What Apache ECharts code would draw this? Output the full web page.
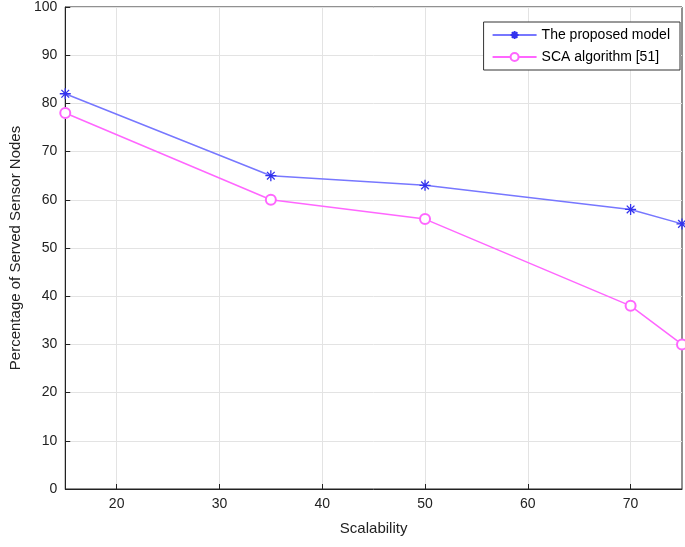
<!DOCTYPE html>
<html><head><meta charset="utf-8">
<script src="https://cdn.jsdelivr.net/npm/echarts@6/dist/echarts.min.js"></script>
<style>html,body{margin:0;padding:0;background:#fff}#c{width:685px;height:547px}</style>
</head><body><div id="c"></div>
<script>
const xValues = [15, 35, 50, 70, 75];
const proposed = [82, 65, 63, 58, 55];
const sca = [78, 60, 56, 38, 30];
const xTicks = [20, 30, 40, 50, 60, 70];
const seriesNames = ['The proposed model', 'SCA algorithm [51]'];
const font = 'Liberation Sans';
const chart = echarts.init(document.getElementById('c'));
chart.setOption({
  animation: false,
  grid: {left: 60, right: 3, top: 7, bottom: 58, show: true, borderColor: '#222', borderWidth: 1},
  legend: {
    orient: 'vertical', right: 5, top: 22, itemGap: 8,
    backgroundColor: '#fff', borderColor: '#333', borderWidth: 1, padding: [6, 10, 6, 8],
    itemWidth: 44, itemHeight: 10,
    textStyle: {fontFamily: font, fontSize: 14, color: '#000'},
    data: seriesNames
  },
  xAxis: {
    type: 'value', min: 15, max: 75,
    name: 'Scalability', nameLocation: 'middle', nameGap: 32,
    nameTextStyle: {fontFamily: font, fontSize: 15, color: '#222'},
    axisLine: {lineStyle: {color: '#222'}},
    axisTick: {inside: true, customValues: xTicks, lineStyle: {color: '#222'}},
    axisLabel: {customValues: xTicks, fontFamily: font, fontSize: 14, color: '#222'},
    splitLine: {show: true, lineStyle: {color: '#e3e3e3'}}
  },
  yAxis: {
    type: 'value', min: 0, max: 100, interval: 10,
    name: 'Percentage of Served Sensor Nodes', nameLocation: 'middle', nameGap: 36,
    nameTextStyle: {fontFamily: font, fontSize: 15, color: '#222'},
    axisLine: {show: true, lineStyle: {color: '#222'}},
    axisTick: {show: true, inside: true, lineStyle: {color: '#222'}},
    axisLabel: {fontFamily: font, fontSize: 14, color: '#222'},
    splitLine: {show: true, lineStyle: {color: '#e3e3e3'}}
  },
  series: [
    {name: seriesNames[0], type: 'line', data: xValues.map((x, i) => [x, proposed[i]]),
     symbol: 'path://M0,-5L0,5M-5,0L5,0M-3.5,-3.5L3.5,3.5M-3.5,3.5L3.5,-3.5', symbolSize: 11,
     lineStyle: {color: '#7777ff', width: 1.5},
     itemStyle: {color: '#7777ff', borderColor: '#3333ee', borderWidth: 1.3}},
    {name: seriesNames[1], type: 'line', data: xValues.map((x, i) => [x, sca[i]]),
     symbol: 'emptyCircle', symbolSize: 10,
     lineStyle: {color: '#ff66ff', width: 1.5},
     itemStyle: {color: '#ff66ff', borderColor: '#ff44ff', borderWidth: 1.3}}
  ]
});
</script></body></html>
